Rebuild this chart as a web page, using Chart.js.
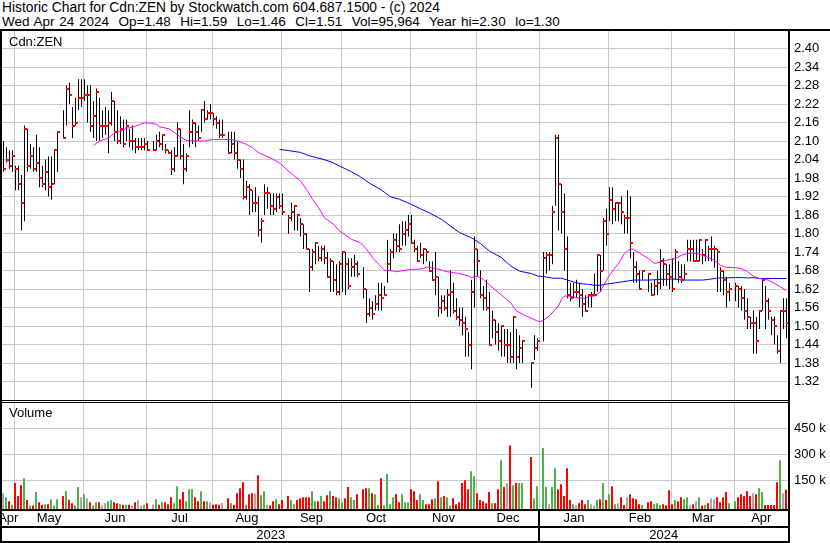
<!DOCTYPE html>
<html>
<head>
<meta charset="utf-8">
<script src="https://cdn.jsdelivr.net/npm/chart.js@4.4.1/dist/chart.umd.min.js"></script>
<style>
  html, body { margin: 0; padding: 0; background: #fff; }
  #wrap { position: relative; width: 830px; height: 543px; overflow: hidden; background: #fff;
          font-family: "Liberation Sans", Arial, sans-serif; color: #000; }
  .txt { position: absolute; white-space: pre; line-height: 14px; }
  .head1 { font-size: 13.8px; }
  .head2 { font-size: 13.5px; }
  .t13 { font-size: 13px; }
  .rule { position: absolute; background: #000; }
  canvas { position: absolute; left: 0; }
</style>
</head>
<body>
<div id="wrap">
  <div class="txt head1" id="title1" style="left:2px;top:1px"></div>
  <div class="txt head2" id="title2" style="left:2px;top:15px;word-spacing:1px"></div>
  <canvas id="price" width="830" height="369" style="top:31px"></canvas>
  <canvas id="volume" width="830" height="140" style="top:403px"></canvas>
  <div class="txt t13" id="symLabel" style="left:9px;top:35px"></div>
  <div class="txt t13" style="left:9px;top:406px">Volume</div>
  <div class="rule" style="left:0;top:29px;width:830px;height:2px"></div>
  <div class="rule" style="left:0;top:29px;width:2px;height:514px"></div>
  <div class="rule" style="left:788px;top:29px;width:2px;height:514px"></div>
  <div class="rule" style="left:0;top:400px;width:790px;height:1px"></div>
  <div class="rule" style="left:0;top:402px;width:790px;height:1px"></div>
  <div class="rule" style="left:0;top:509px;width:790px;height:2px"></div>
  <div class="rule" style="left:0;top:526px;width:790px;height:2px"></div>
  <div class="rule" style="left:0;top:541px;width:790px;height:2px"></div>
</div>
<script>
// ---- Cdn:ZEN daily bars, Apr 25 2023 .. Apr 24 2024 (one slot per weekday, null = market holiday)
const symbol = 'Cdn:ZEN';
const lastDate = 'Wed Apr 24 2024';
const lastOpen = 1.48;

const highs = [
  2.10,2.08,2.07,2.07,2.02,2.02,1.99,2.15,2.14,2.09,
  2.08,2.12,2.08,2.02,2.04,2.05,2.05,2.07,2.13,null,
  2.20,2.28,2.29,2.21,2.24,2.30,2.30,2.30,2.28,2.28,
  2.23,2.27,2.24,2.20,2.21,2.20,2.26,2.23,2.20,2.18,
  2.17,2.17,2.14,2.15,2.11,2.11,2.11,2.11,2.10,null,
  2.10,2.12,2.13,2.12,2.09,2.07,2.07,2.08,2.16,2.14,
  2.09,2.06,2.20,2.17,2.16,2.15,2.20,2.23,2.20,2.22,
  2.19,2.18,2.17,2.17,null,2.13,2.13,2.13,2.10,2.04,
  2.04,1.97,1.96,1.94,1.95,1.92,1.85,1.96,1.95,1.93,
  1.93,1.93,1.93,1.93,null,1.86,1.90,1.89,1.86,1.85,
  1.83,1.80,1.75,1.75,1.77,1.76,1.76,1.76,1.74,1.72,
  1.71,1.70,1.71,1.74,1.74,1.72,1.72,1.73,1.71,null,
  1.69,1.62,1.59,1.58,1.60,1.64,1.64,1.63,1.78,1.75,
  1.80,1.80,1.83,1.84,1.84,1.86,1.86,1.78,1.76,1.77,
  1.75,1.75,1.71,1.71,1.74,1.66,1.60,1.60,1.62,1.68,
  1.64,1.59,1.56,1.56,1.53,1.48,1.65,1.79,1.75,1.68,
  1.63,1.65,1.61,1.55,1.52,1.51,1.50,1.49,1.49,1.48,
  1.53,1.49,1.47,1.45,null,null,1.38,1.47,1.46,null,
  1.74,1.74,1.74,1.89,2.12,2.12,1.96,1.93,1.79,1.64,
  1.64,1.65,1.64,1.62,1.60,1.60,1.61,1.67,1.73,1.73,
  1.85,1.88,1.95,1.95,1.90,1.90,1.92,1.86,1.94,1.92,
  1.74,1.71,1.68,1.68,null,1.67,1.64,1.65,1.68,1.75,
  1.72,1.70,1.70,1.72,1.75,1.71,1.70,1.70,1.78,1.78,
  1.78,1.78,1.78,1.75,1.78,1.76,1.79,1.76,1.75,1.69,
  1.68,1.66,1.64,null,1.64,1.63,1.63,1.62,1.59,1.53,
  1.55,1.53,1.55,1.65,1.63,1.59,1.53,1.53,1.47,1.55,
  1.59,1.59
];

const lows = [
  2.00,2.03,2.01,2.00,1.94,1.94,1.81,1.84,2.00,2.01,
  2.00,2.00,1.95,1.95,1.94,1.92,1.91,1.96,2.00,null,
  2.11,2.15,2.22,2.11,2.15,2.20,2.21,2.23,2.16,2.13,
  2.11,2.10,2.10,2.11,2.12,2.06,2.15,2.10,2.09,2.09,
  2.08,2.10,2.08,2.07,2.06,2.07,2.07,2.07,2.07,null,
  2.07,2.07,2.08,2.07,2.06,2.06,1.99,2.00,2.05,2.04,
  1.96,2.00,2.08,2.09,2.08,2.10,2.13,2.16,2.17,2.17,
  2.15,2.14,2.11,2.11,null,2.06,2.06,2.04,2.01,1.98,
  1.91,1.91,1.86,1.87,1.87,1.79,1.77,1.86,1.88,1.86,
  1.86,1.87,1.88,1.86,null,1.80,1.84,1.81,1.81,1.79,
  1.75,1.75,1.61,1.68,1.70,1.71,1.71,1.70,1.66,1.61,
  1.61,1.60,1.60,1.61,1.60,1.62,1.66,1.66,1.66,null,
  1.59,1.51,1.53,1.52,1.55,1.55,1.55,1.60,1.64,1.68,
  1.72,1.74,1.74,1.76,1.76,1.79,1.77,1.74,1.71,1.72,
  1.70,1.71,1.68,1.65,1.60,1.53,1.54,1.55,1.53,1.53,
  1.54,1.52,1.50,1.47,1.40,1.40,1.36,1.56,1.66,1.59,
  1.55,1.55,1.44,1.46,1.44,1.42,1.40,1.40,1.38,1.38,
  1.38,1.36,1.38,1.38,null,null,1.30,1.39,1.42,null,
  1.45,1.67,1.68,1.70,1.89,1.81,1.80,1.68,1.59,1.58,
  1.59,1.59,1.56,1.53,1.55,1.56,1.56,1.60,1.61,1.61,
  1.68,1.76,1.84,1.83,1.84,1.84,1.83,1.80,1.80,1.72,
  1.64,1.64,1.62,1.65,null,1.61,1.60,1.60,1.60,1.62,
  1.63,1.63,1.62,1.61,1.65,1.64,1.64,1.65,1.71,1.71,
  1.71,1.71,1.71,1.70,1.71,1.71,1.71,1.69,1.61,1.61,
  1.60,1.56,1.58,null,1.58,1.56,1.55,1.52,1.49,1.49,
  1.41,1.41,1.49,1.55,1.49,1.52,1.47,1.44,1.41,1.38,
  1.49,1.46
];

const closes = [
  2.01,2.04,2.02,2.05,2.01,1.96,1.90,2.14,2.02,2.05,
  2.01,2.03,1.98,1.96,2.00,1.95,1.96,2.07,2.13,null,
  2.11,2.27,2.25,2.15,2.16,2.24,2.24,2.25,2.25,2.15,
  2.18,2.26,2.15,2.15,2.15,2.16,2.23,2.13,2.10,2.14,
  2.09,2.15,2.10,2.10,2.08,2.08,2.08,2.09,2.07,null,
  2.07,2.10,2.09,2.12,2.07,2.06,2.01,2.05,2.14,2.05,
  2.01,2.05,2.13,2.16,2.13,2.11,2.20,2.17,2.19,2.19,
  2.17,2.16,2.12,2.12,null,2.06,2.09,2.06,2.04,2.01,
  1.92,1.95,1.94,1.90,1.90,1.81,1.84,1.93,1.93,1.89,
  1.88,1.92,1.89,1.87,null,1.85,1.87,1.89,1.86,1.83,
  1.80,1.75,1.69,1.74,1.77,1.72,1.75,1.72,1.66,1.71,
  1.65,1.61,1.70,1.74,1.70,1.63,1.69,1.70,1.67,null,
  1.62,1.54,1.56,1.54,1.57,1.60,1.59,1.60,1.70,1.74,
  1.78,1.76,1.75,1.80,1.81,1.83,1.77,1.75,1.71,1.73,
  1.75,1.74,1.68,1.65,1.66,1.56,1.58,1.56,1.60,1.61,
  1.55,1.53,1.52,1.51,1.49,1.44,1.61,1.75,1.71,1.60,
  1.59,1.56,1.44,1.52,1.48,1.45,1.50,1.44,1.44,1.40,
  1.53,1.40,1.43,1.45,null,null,1.38,1.43,1.45,null,
  1.72,1.73,1.73,1.87,2.11,1.96,1.87,1.75,1.60,1.59,
  1.61,1.61,1.60,1.57,1.55,1.60,1.60,1.60,1.73,1.68,
  1.84,1.80,1.91,1.88,1.90,1.90,1.87,1.85,1.85,1.77,
  1.69,1.67,1.62,1.68,null,1.67,1.60,1.63,1.64,1.71,
  1.70,1.67,1.66,1.62,1.74,1.66,1.65,1.67,1.75,1.75,
  1.71,1.71,1.78,1.73,1.78,1.75,1.75,1.75,1.74,1.68,
  1.65,1.61,1.62,null,1.63,1.62,1.59,1.55,1.53,1.51,
  1.51,1.45,1.55,1.65,1.58,1.55,1.52,1.50,1.42,1.55,
  1.55,1.51
];

const volumes = [
  77000,54000,31000,10000,135000,60000,123000,163000,37000,6000,
  6000,83000,25000,10000,13000,13000,42000,6000,42000,null,
  60000,88000,37000,19000,6000,112000,54000,71000,48000,25000,
  6000,25000,25000,6000,19000,31000,37000,25000,19000,13000,
  10000,10000,10000,6000,25000,37000,6000,10000,19000,null,
  12000,42000,10000,25000,25000,13000,54000,19000,117000,42000,
  83000,31000,100000,100000,54000,31000,88000,31000,31000,25000,
  10000,13000,10000,20000,null,48000,19000,10000,77000,106000,
  140000,10000,71000,77000,77000,181000,65000,88000,10000,6000,
  31000,42000,13000,37000,null,60000,37000,13000,37000,48000,
  54000,54000,54000,88000,31000,31000,60000,31000,65000,88000,
  60000,54000,48000,25000,48000,112000,54000,37000,71000,null,
  100000,106000,106000,77000,71000,10000,163000,6000,187000,13000,
  54000,71000,25000,71000,25000,25000,100000,88000,37000,71000,
  37000,13000,13000,42000,48000,146000,54000,60000,54000,6000,
  48000,13000,25000,135000,152000,100000,204000,175000,77000,37000,
  31000,19000,83000,19000,19000,100000,267000,112000,135000,354000,
  123000,135000,135000,135000,null,null,285000,48000,117000,null,
  337000,112000,13000,112000,221000,100000,129000,60000,221000,37000,
  13000,8000,19000,37000,13000,37000,13000,6000,37000,42000,
  135000,37000,71000,117000,13000,19000,54000,8000,54000,71000,
  48000,42000,13000,8000,null,25000,31000,13000,19000,8000,
  13000,6000,94000,13000,37000,31000,54000,42000,54000,8000,
  13000,31000,54000,6000,8000,19000,48000,42000,54000,25000,
  54000,83000,19000,null,31000,54000,71000,60000,88000,60000,
  77000,71000,106000,83000,8000,8000,8000,8000,140000,267000,
  77000,95964
];

// moving averages as [bar index, value]
const maShort = [
  [30,2.086],[32,2.100],[35,2.110],[37,2.127],[39,2.132],[41,2.141],[44,2.148],[46,2.156],[47,2.159],
  [49,2.158],[51,2.154],[52,2.146],[55,2.140],[57,2.127],[59,2.113],[61,2.102],[64,2.100],[67,2.100],
  [70,2.105],[76,2.105],[79,2.097],[81,2.089],[83,2.078],[85,2.062],[87,2.054],[90,2.040],[92,2.029],
  [94,2.011],[96,1.994],[99,1.970],[101,1.943],[103,1.911],[105,1.884],[107,1.851],[110,1.830],
  [112,1.808],[114,1.795],[116,1.781],[119,1.770],[121,1.749],[123,1.722],[125,1.700],[127,1.681],
  [130,1.678],[131,1.676],[134,1.681],[136,1.684],[138,1.684],[140,1.687],[141,1.691],[144,1.687],
  [146,1.681],[148,1.676],[150,1.673],[152,1.670],[155,1.662],[156,1.657],[158,1.662],[160,1.651],
  [162,1.633],[165,1.608],[167,1.592],[169,1.576],[171,1.549],[174,1.533],[176,1.525],[178,1.516],
  [179,1.514],[180,1.519],[182,1.533],[185,1.565],[186,1.587],[187,1.597],[189,1.597],[191,1.592],
  [194,1.589],[195,1.597],[197,1.597],[199,1.611],[200,1.632],[202,1.665],[205,1.703],[207,1.735],
  [209,1.751],[210,1.748],[212,1.737],[215,1.719],[217,1.703],[218,1.705],[219,1.708],[221,1.713],
  [224,1.719],[226,1.730],[228,1.735],[230,1.737],[232,1.733],[235,1.722],[237,1.713],[239,1.697],
  [241,1.690],[244,1.689],[246,1.686],[248,1.676],[250,1.661],[252,1.654],[255,1.649],[257,1.638],
  [259,1.627],[261,1.614]
];
const maLong = [
  [92,2.073],[95,2.069],[99,2.063],[102,2.052],[106,2.042],[109,2.033],[112,2.019],[116,2.000],
  [119,1.984],[122,1.963],[126,1.941],[129,1.919],[132,1.911],[136,1.894],[139,1.880],[142,1.867],
  [146,1.846],[149,1.824],[152,1.803],[156,1.786],[159,1.767],[162,1.743],[166,1.722],[169,1.695],
  [172,1.678],[176,1.670],[178,1.662],[181,1.659],[183,1.655],[186,1.655],[188,1.649],[190,1.643],
  [192,1.638],[195,1.635],[197,1.632],[199,1.632],[201,1.636],[204,1.640],[206,1.643],[208,1.646],
  [210,1.649],[215,1.649],[219,1.651],[221,1.652],[224,1.652],[226,1.649],[233,1.649],[235,1.651],
  [237,1.654],[239,1.656],[241,1.656],[244,1.657],[246,1.657],[248,1.656],[250,1.657],[252,1.654],
  [261,1.654]
];

// calendar axis
const monthNames = ['Apr','May','Jun','Jul','Aug','Sep','Oct','Nov','Dec','Jan','Feb','Mar','Apr'];
const monthStart = [4, 27, 48, 70, 93, 113, 136, 158, 179, 202, 223, 244]; // first bar of May .. Apr
const yearNames = ['2023', '2024'];
const yearStart = 179;
const priceTicks = [1.32,1.38,1.44,1.50,1.56,1.62,1.68,1.74,1.80,1.86,1.92,1.98,2.04,2.10,2.16,2.22,2.28,2.34,2.40];
const volumeTicks = [150000, 300000, 450000];

// ---- header text
const fmt2 = v => v.toFixed(2);
const last = highs.length - 1;
const yearHi = Math.max(...highs.filter(v => v != null));
const yearLo = Math.min(...lows.filter(v => v != null));
document.getElementById('title1').textContent =
  'Historic Chart for ' + symbol + ' by Stockwatch.com 604.687.1500 - (c) 2024';
document.getElementById('title2').textContent =
  lastDate + '  Op=' + fmt2(lastOpen) + '  Hi=' + fmt2(highs[last]) + '  Lo=' + fmt2(lows[last]) +
  '  Cl=' + fmt2(closes[last]) + '  Vol=' + volumes[last].toLocaleString('en-US') +
  '  Year hi=' + fmt2(yearHi) + '  lo=' + fmt2(yearLo);
document.getElementById('symLabel').textContent = symbol;

// ---- shared scale geometry
Chart.defaults.font.family = '"Liberation Sans", Arial, sans-serif';
Chart.defaults.font.size = 13;
Chart.defaults.color = '#000';
const GRID = '#c8c8c8';
const X_MIN = -0.5, X_MAX = last + 0.5;   // 3 px per weekday slot
const GRID_LEAD = 1 / 3;                  // month line sits one pixel left of the month's first bar
const VOL_SHIFT = 1 / 6;                  // volume bars are 2 px wide, shift keeps them on whole pixels
const P_MIN = 1.26, P_MAX = 2.4568;
const V_MIN = -14423, V_MAX = 597115;

const bounds = [X_MIN, ...monthStart.map(i => i - GRID_LEAD), X_MAX];
const monthMid = monthNames.map((_, k) => (bounds[k] + bounds[k + 1]) / 2);
const yearBounds = [X_MIN, yearStart - GRID_LEAD, X_MAX];
const yearMid = yearNames.map((_, k) => (yearBounds[k] + yearBounds[k + 1]) / 2);

const rangeData = [], closeData = [], volData = [], volColors = [];
let prevClose = null;
for (let i = 0; i <= last; i++) {
  if (highs[i] == null) continue;
  rangeData.push({ x: i, y: [lows[i], highs[i]] });
  closeData.push({ x: i, y: closes[i] });
  volData.push({ x: i, y: volumes[i] });
  let c = '#a9a9a9';
  if (prevClose != null && closes[i] > prevClose) c = '#4db34d';
  else if (prevClose != null && closes[i] < prevClose) c = '#ff0000';
  volColors.push(c);
  prevClose = closes[i];
}

// close marker: 3x2 red tick to the right of the range line
const closeMark = document.createElement('canvas');
closeMark.width = 7; closeMark.height = 2;
const cm = closeMark.getContext('2d');
cm.fillStyle = '#ff0000';
cm.fillRect(3, 0, 3, 2);

// fixed-size axis boxes with no automatic label padding
function fixBox(size) {
  return s => {
    if (s.isHorizontal()) s.height = size; else s.width = size;
    s.paddingLeft = 0; s.paddingRight = 0; s.paddingTop = 0; s.paddingBottom = 0;
  };
}

const noGridScale = {
  border: { display: false },
  grid: { display: false, drawTicks: false }
};

new Chart(document.getElementById('price'), {
  type: 'bar',
  data: {
    datasets: [
      { type: 'scatter', data: closeData, pointStyle: closeMark, pointRadius: 2, order: 0 },
      { type: 'line', data: maShort.map(([x, y]) => ({ x, y })), borderColor: '#ff00ff', borderWidth: 1,
        pointRadius: 0, tension: 0, order: 1 },
      { type: 'line', data: maLong.map(([x, y]) => ({ x, y })), borderColor: '#0000ff', borderWidth: 1,
        pointRadius: 0, tension: 0, order: 2 },
      { type: 'bar', data: rangeData, backgroundColor: '#000000', borderWidth: 0, barThickness: 1,
        inflateAmount: 0, order: 3 }
    ]
  },
  options: {
    responsive: false, animation: false, events: [],
    layout: { autoPadding: false, padding: { left: 2, right: 0, top: 0, bottom: 0 } },
    plugins: { legend: { display: false }, tooltip: { enabled: false } },
    scales: {
      x: {
        type: 'linear', min: X_MIN, max: X_MAX, offset: false,
        grid: { color: GRID, lineWidth: 1, drawTicks: false, offset: false },
        border: { display: false }, ticks: { display: false },
        afterBuildTicks: s => { s.ticks = monthStart.map(i => ({ value: i - GRID_LEAD })); },
        afterFit: fixBox(0)
      },
      y: {
        type: 'linear', position: 'right', min: P_MIN, max: P_MAX,
        grid: { color: GRID, lineWidth: 1, drawTicks: false },
        border: { display: false },
        ticks: { padding: 6, callback: v => v.toFixed(2) },
        afterBuildTicks: s => { s.ticks = priceTicks.map(v => ({ value: v })); },
        afterFit: fixBox(42)
      }
    }
  }
});

// black divider between the two years in the date rows
const yearDivider = {
  id: 'yearDivider',
  afterDraw(chart) {
    const s = chart.scales.years;
    const px = s.getPixelForValue(yearStart - GRID_LEAD);
    const ctx = chart.ctx;
    ctx.save();
    ctx.fillStyle = '#000';
    ctx.fillRect(Math.floor(px) - 1, chart.chartArea.bottom, 2, chart.height - chart.chartArea.bottom);
    ctx.restore();
  }
};

new Chart(document.getElementById('volume'), {
  type: 'bar',
  data: {
    datasets: [
      { data: volData, backgroundColor: volColors, borderWidth: 0, barThickness: 2, inflateAmount: 0,
        base: V_MIN, xAxisID: 'x', yAxisID: 'y' }
    ]
  },
  options: {
    responsive: false, animation: false, events: [],
    layout: { autoPadding: false, padding: { left: 2, right: 0, top: 0, bottom: 0 } },
    plugins: { legend: { display: false }, tooltip: { enabled: false } },
    scales: {
      x: {
        type: 'linear', min: X_MIN + VOL_SHIFT, max: X_MAX + VOL_SHIFT, offset: false, weight: 0,
        grid: { color: GRID, lineWidth: 1, drawTicks: false, offset: false },
        border: { display: false }, ticks: { display: false },
        afterBuildTicks: s => { s.ticks = monthStart.map(i => ({ value: i - GRID_LEAD + VOL_SHIFT })); },
        afterFit: fixBox(0)
      },
      months: {
        type: 'linear', position: 'bottom', min: X_MIN, max: X_MAX, offset: false, weight: 1,
        ...noGridScale,
        ticks: { autoSkip: false, maxRotation: 0, padding: 2, callback: (v, k) => monthNames[k] },
        afterBuildTicks: s => { s.ticks = monthMid.map(v => ({ value: v })); },
        afterFit: fixBox(17)
      },
      years: {
        type: 'linear', position: 'bottom', min: X_MIN, max: X_MAX, offset: false, weight: 2,
        ...noGridScale,
        ticks: { autoSkip: false, maxRotation: 0, padding: 2, callback: (v, k) => yearNames[k] },
        afterBuildTicks: s => { s.ticks = yearMid.map(v => ({ value: v })); },
        afterFit: fixBox(17)
      },
      y: {
        type: 'linear', position: 'right', min: V_MIN, max: V_MAX,
        grid: { color: GRID, lineWidth: 1, drawTicks: false },
        border: { display: false },
        ticks: { padding: 6, callback: v => (v / 1000) + ' k' },
        afterBuildTicks: s => { s.ticks = volumeTicks.map(v => ({ value: v })); },
        afterFit: fixBox(42)
      }
    }
  },
  plugins: [yearDivider]
});
</script>
</body>
</html>
